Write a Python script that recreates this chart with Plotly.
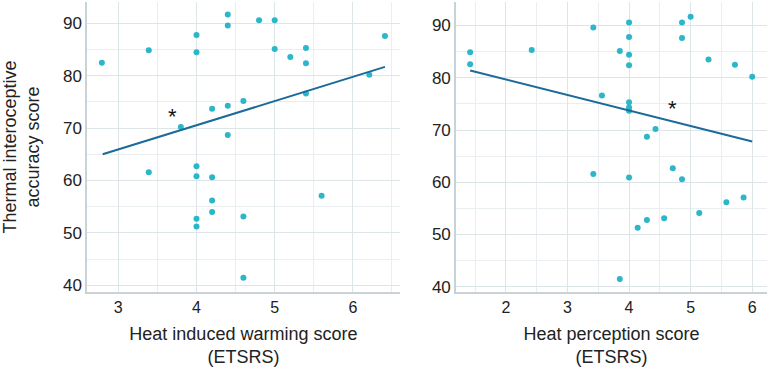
import plotly.graph_objects as go

# Left panel: Heat induced warming score vs thermal interoceptive accuracy
warm_x = [2.79, 3.39, 3.39, 3.80, 4.0, 4.0, 4.0, 4.0, 4.0, 4.0, 4.2, 4.2, 4.2, 4.2,
          4.4, 4.4, 4.4, 4.4, 4.6, 4.6, 4.6, 4.8, 5.0, 5.0, 5.2, 5.4, 5.4, 5.4, 5.6, 6.21, 6.41]
warm_y = [82.5, 84.9, 61.6, 70.2, 87.8, 84.5, 62.7, 60.8, 52.7, 51.2, 73.7, 60.6, 56.2, 54.0,
          91.7, 89.6, 74.3, 68.7, 75.2, 53.1, 41.4, 90.6, 90.6, 85.1, 83.6, 85.3, 82.4, 76.6, 57.1, 80.2, 87.6]
warm_fit_x = [2.80, 6.41]
warm_fit_y = [65.0, 81.7]

# Right panel: Heat perception score vs thermal interoceptive accuracy
perc_x = [1.42, 1.42, 2.42, 3.42, 3.42, 3.56, 3.85, 3.85, 4.0, 4.0, 4.0, 4.0, 4.0, 4.0, 4.0, 4.0,
          4.14, 4.29, 4.29, 4.43, 4.57, 4.71, 4.86, 4.86, 4.86, 5.0, 5.14, 5.29, 5.58, 5.72, 5.86, 6.0]
perc_y = [84.9, 82.6, 85.3, 89.6, 61.6, 76.6, 85.1, 41.5, 90.6, 87.8, 84.4, 82.4, 75.3, 74.3, 73.7, 60.9,
          51.3, 68.7, 52.8, 70.2, 53.1, 62.7, 90.6, 87.6, 60.6, 91.7, 54.1, 83.5, 56.2, 82.5, 57.1, 80.2]
perc_fit_x = [1.42, 6.0]
perc_fit_y = [81.4, 67.8]

x_titles = ["Heat induced warming score<br>(ETSRS)", "Heat perception score<br>(ETSRS)"]
y_title = "Thermal interoceptive<br>accuracy score"
star_pos = [(3.69, 72.2), (4.71, 74.1)]

dot_color = "#2bb6c9"
line_color = "#1b6a9a"
grid_color = "#dde5e8"
minor_grid = "#e9eef0"
axis_color = "#c9d3d7"
font_fam = "Liberation Sans, Arial, sans-serif"

fig = go.Figure()
fig.add_trace(go.Scatter(x=warm_x, y=warm_y, mode="markers", marker=dict(color=dot_color, size=6),
                         xaxis="x", yaxis="y", showlegend=False))
fig.add_trace(go.Scatter(x=warm_fit_x, y=warm_fit_y, mode="lines", line=dict(color=line_color, width=2),
                         xaxis="x", yaxis="y", showlegend=False))
fig.add_trace(go.Scatter(x=perc_x, y=perc_y, mode="markers", marker=dict(color=dot_color, size=6),
                         xaxis="x2", yaxis="y2", showlegend=False))
fig.add_trace(go.Scatter(x=perc_fit_x, y=perc_fit_y, mode="lines", line=dict(color=line_color, width=2),
                         xaxis="x2", yaxis="y2", showlegend=False))

xtick_font = dict(family=font_fam, size=16, color="#222222")
ytick_font = dict(family=font_fam, size=17, color="#222222")
title_font = dict(family=font_fam, size=18, color="#222222")

def xaxis(domain, rng, anchor, title):
    return dict(domain=domain, range=rng, anchor=anchor, dtick=1, tick0=0,
                showgrid=True, gridcolor=grid_color, gridwidth=1,
                minor=dict(dtick=0.5, tick0=0, showgrid=True, gridcolor=minor_grid),
                showline=True, linecolor=axis_color, linewidth=1.5, zeroline=False,
                ticks="", tickfont=xtick_font,
                title=dict(text=title, font=title_font, standoff=12))

def yaxis(rng, anchor, title=None):
    d = dict(range=rng, anchor=anchor, dtick=10, tick0=0,
             showgrid=True, gridcolor=grid_color, gridwidth=1,
             minor=dict(dtick=5, tick0=0, showgrid=True, gridcolor=minor_grid),
             showline=True, linecolor=axis_color, linewidth=1.5, zeroline=False,
             ticks="", tickfont=ytick_font)
    if title:
        d["title"] = dict(text=title, font=title_font, standoff=22)
    return d

fig.update_layout(
    width=769, height=368,
    margin=dict(l=87, r=2, t=2, b=76, autoexpand=False),
    plot_bgcolor="white", paper_bgcolor="white",
    hovermode=False,
    xaxis=xaxis([0, 0.46], [2.6, 6.6], "y", x_titles[0]),
    yaxis=yaxis([38.7, 94.1], "x", y_title),
    xaxis2=xaxis([0.5426, 1], [1.19, 6.24], "y2", x_titles[1]),
    yaxis2=yaxis([39.0, 94.5], "x2"),
)

for i, (sx, sy) in enumerate(star_pos):
    fig.add_annotation(x=sx, y=sy, xref="x" if i == 0 else "x2", yref="y" if i == 0 else "y2",
                       text="*", showarrow=False, font=dict(family=font_fam, size=22, color="#111111"))

fig.write_html("out.html", config={"displayModeBar": False},
               post_script="document.body.style.margin='0';document.body.style.overflow='hidden';")
